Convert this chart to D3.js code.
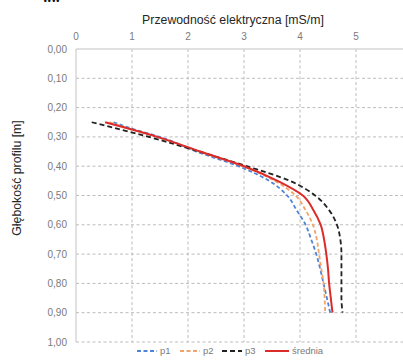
<!DOCTYPE html>
<html>
<head>
<meta charset="utf-8">
<script src="https://cdn.jsdelivr.net/npm/d3@7"></script>
<style>
  body { margin: 0; background: #fff; }
  text { font-family: "Liberation Sans", Arial, sans-serif; }
</style>
</head>
<body>
<div id="chart"></div>
<script>
// depth [m] shared by all series
const depths = [0.25, 0.275, 0.30, 0.35, 0.40, 0.45, 0.50, 0.55, 0.60, 0.65, 0.70, 0.75, 0.80, 0.85, 0.90];
const p1 = [0.67, 1.05, 1.50, 2.15, 2.90, 3.45, 3.77, 3.94, 4.10, 4.20, 4.29, 4.36, 4.42, 4.48, 4.54];
const p2 = [0.60, 1.00, 1.45, 2.20, 2.98, 3.55, 3.92, 4.10, 4.23, 4.30, 4.34, 4.38, 4.42, 4.44, 4.45];
const p3 = [0.28, 0.80, 1.30, 2.20, 3.05, 3.82, 4.27, 4.52, 4.66, 4.72, 4.74, 4.74, 4.74, 4.74, 4.76];
const srednia = [0.52, 1.00, 1.45, 2.22, 3.00, 3.60, 4.05, 4.24, 4.37, 4.43, 4.47, 4.50, 4.52, 4.55, 4.58];

const xTicks = [0, 1, 2, 3, 4, 5];
const yTicks = [0, 0.1, 0.2, 0.3, 0.4, 0.5, 0.6, 0.7, 0.8, 0.9, 1.0];

const series = [
  { name: 'p1', values: p1, color: '#5084d4', dash: '4,2.5', width: 1.8 },
  { name: 'p2', values: p2, color: '#f2a46a', dash: '4,2.5', width: 1.8 },
  { name: 'p3', values: p3, color: '#222222', dash: '5,3', width: 1.8 },
  { name: 'średnia', values: srednia, color: '#dc2c2a', dash: null, width: 2 }
];

const W = 403, H = 363;
const svg = d3.select('#chart').append('svg')
  .attr('width', W)
  .attr('height', H);

const x = d3.scaleLinear().domain([0, 6]).range([76, 412]);
const y = d3.scaleLinear().domain([0, 1]).range([49, 342]);

// panel letter, mostly above the top edge
svg.append('text')
  .attr('x', 43).attr('y', 2)
  .attr('font-size', 11).attr('font-weight', 'bold')
  .attr('fill', '#111')
  .text('ww');

// grid
const grid = svg.append('g');
grid.selectAll('line.h')
  .data(yTicks.filter(d => d > 0))
  .join('line')
  .attr('class', 'h')
  .attr('x1', x(0)).attr('x2', W)
  .attr('y1', d => y(d)).attr('y2', d => y(d))
  .attr('stroke', '#bcbcbc')
  .attr('stroke-dasharray', '3,2.5');

grid.selectAll('line.v')
  .data(xTicks.filter(d => d > 0))
  .join('line')
  .attr('class', 'v')
  .attr('x1', d => x(d)).attr('x2', d => x(d))
  .attr('y1', y(0)).attr('y2', y(1))
  .attr('stroke', '#bcbcbc')
  .attr('stroke-dasharray', '3,2.5');

// axis lines
svg.append('line')
  .attr('x1', x(0)).attr('x2', W)
  .attr('y1', y(0)).attr('y2', y(0))
  .attr('stroke', '#d6d6d6').attr('stroke-width', 1.5);
svg.append('line')
  .attr('x1', x(0)).attr('x2', x(0))
  .attr('y1', y(0)).attr('y2', y(1))
  .attr('stroke', '#c4c4c4').attr('stroke-width', 1);

// top axis labels
svg.append('g').selectAll('text')
  .data(xTicks)
  .join('text')
  .attr('x', d => x(d))
  .attr('y', 40)
  .attr('text-anchor', 'middle')
  .attr('font-size', 10)
  .attr('fill', '#7a7a7a')
  .text(d => d);

// left axis labels
const fmt = d => d3.format('.2f')(d).replace('.', ',');
svg.append('g').selectAll('text')
  .data(yTicks)
  .join('text')
  .attr('x', 67)
  .attr('y', d => y(d) + 3.5)
  .attr('text-anchor', 'end')
  .attr('font-size', 10)
  .attr('fill', '#7a7a7a')
  .text(fmt);

// titles
svg.append('text')
  .attr('x', 233).attr('y', 24)
  .attr('text-anchor', 'middle')
  .attr('font-size', 12.3)
  .attr('fill', '#262626')
  .text('Przewodność elektryczna [mS/m]');

svg.append('text')
  .attr('transform', 'translate(21,178) rotate(-90)')
  .attr('text-anchor', 'middle')
  .attr('font-size', 12.3)
  .attr('fill', '#262626')
  .text('Głębokość profilu [m]');

// curves
const line = d3.line()
  .x(d => x(d[1]))
  .y(d => y(d[0]))
  .curve(d3.curveMonotoneY);

svg.append('g').selectAll('path')
  .data(series)
  .join('path')
  .attr('d', s => line(depths.map((dp, i) => [dp, s.values[i]])))
  .attr('fill', 'none')
  .attr('stroke', s => s.color)
  .attr('stroke-width', s => s.width)
  .attr('stroke-dasharray', s => s.dash);

// legend
const legendX = [137, 180, 222, 265];
const legend = svg.append('g').selectAll('g')
  .data(series)
  .join('g')
  .attr('transform', (s, i) => `translate(${legendX[i]},351)`);
legend.append('line')
  .attr('x1', 0).attr('x2', (s, i) => i === 3 ? 24 : 20)
  .attr('y1', 0).attr('y2', 0)
  .attr('stroke', s => s.color)
  .attr('stroke-width', s => s.width)
  .attr('stroke-dasharray', s => s.dash);
legend.append('text')
  .attr('x', (s, i) => i === 3 ? 27 : 23)
  .attr('y', 3)
  .attr('font-size', 9.5)
  .attr('fill', '#7a7a7a')
  .text(s => s.name);
</script>
</body>
</html>
